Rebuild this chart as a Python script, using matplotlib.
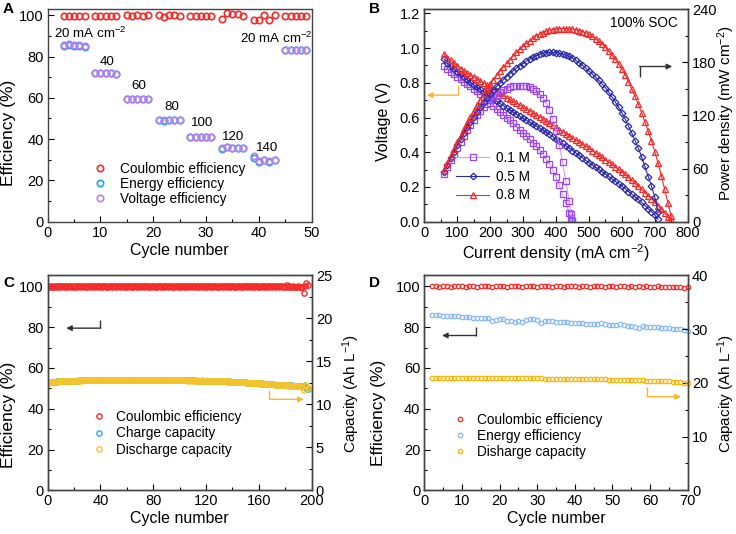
import matplotlib
matplotlib.use('Agg')
import matplotlib.pyplot as plt
from matplotlib.ticker import MultipleLocator, FormatStrFormatter

plt.rcParams['font.family'] = ['Liberation Sans', 'DejaVu Sans']
plt.rcParams['mathtext.fontset'] = 'custom'
plt.rcParams['mathtext.rm'] = 'Liberation Sans'
plt.rcParams['mathtext.it'] = 'Liberation Sans:italic'
plt.rcParams['mathtext.bf'] = 'Liberation Sans:bold'

# ---------------- Panel A: rate performance ----------------
a_cycles = [3, 4, 5, 6, 7, 9, 10, 11, 12, 13, 15, 16, 17, 18, 19, 21, 22, 23, 24, 25,
            27, 28, 29, 30, 31, 33, 34, 35, 36, 37, 39, 40, 41, 42, 43, 45, 46, 47, 48, 49]
a_ce = [99.7, 99.7, 99.7, 99.7, 99.7, 99.7, 99.7, 99.7, 99.7, 99.8,
        99.9, 99.6, 99.9, 99.6, 99.9, 99.9, 99.3, 99.9, 100.1, 99.5,
        99.8, 99.5, 99.6, 99.7, 99.8, 98.2, 101.1, 100.5, 100.5, 99.5,
        97.5, 97.7, 100.0, 97.8, 100.0, 99.5, 99.6, 99.6, 99.6, 99.6]
a_ee = [85.2, 85.6, 85.2, 85.2, 84.7, 71.8, 71.8, 71.8, 71.8, 71.3,
        59.3, 59.3, 59.3, 59.3, 59.3, 49.3, 49.0, 49.3, 49.3, 49.3,
        41.0, 41.0, 41.0, 40.8, 40.8, 35.2, 36.2, 35.6, 35.6, 35.6,
        30.8, 28.8, 29.8, 29.0, 29.8, 83.1, 83.1, 83.1, 83.1, 83.1]
a_ve = [85.5, 86.0, 85.5, 85.5, 85.0, 72.0, 72.0, 72.0, 72.0, 71.5,
        59.5, 59.5, 59.5, 59.5, 59.5, 49.5, 49.3, 49.5, 49.5, 49.5,
        41.2, 41.2, 41.2, 41.0, 41.0, 35.6, 36.0, 35.8, 35.8, 35.8,
        31.8, 29.5, 30.0, 29.5, 30.0, 83.3, 83.3, 83.3, 83.3, 83.3]
a_rate_labels = ['20 mA cm$^{-2}$', '40', '60', '80', '100', '120', '140', '20 mA cm$^{-2}$']
a_label_x = [8.1, 11.3, 17.2, 23.5, 29.3, 35.2, 41.5, 43.2]
a_label_y = [91.3, 77.5, 65.7, 55.4, 47.7, 41.2, 35.5, 88.8]

# ---------------- Panel B: polarization curves ----------------
b_labels = ['0.1 M', '0.5 M', '0.8 M']
b_cur_01 = [60, 70, 80, 90, 100, 110, 120, 130, 140, 150, 160, 170, 180, 190, 200,
            210, 220, 230, 240, 250, 260, 270, 280, 290, 300, 310, 320, 330, 340, 350,
            360, 370, 380, 390, 400, 410, 420, 430, 440, 445, 448]
b_volt_01 = [0.895, 0.880, 0.865, 0.850, 0.835, 0.821, 0.807, 0.793, 0.779, 0.765,
             0.750, 0.735, 0.720, 0.702, 0.685, 0.668, 0.651, 0.634, 0.617, 0.600,
             0.583, 0.566, 0.548, 0.530, 0.512, 0.494, 0.475, 0.455, 0.434, 0.411,
             0.388, 0.362, 0.333, 0.298, 0.256, 0.210, 0.160, 0.106, 0.052, 0.020, 0.002]
b_cur_05 = list(range(60, 711, 10))
b_volt_05 = [0.935, 0.915, 0.897, 0.880, 0.865, 0.849, 0.834, 0.819, 0.804, 0.790,
             0.776, 0.762, 0.748, 0.734, 0.720, 0.707, 0.694, 0.681, 0.668, 0.655,
             0.643, 0.631, 0.619, 0.607, 0.595, 0.584, 0.573, 0.562, 0.551, 0.540,
             0.528, 0.516, 0.503, 0.490, 0.477, 0.464, 0.451, 0.437, 0.424, 0.410,
             0.396, 0.382, 0.368, 0.354, 0.340, 0.327, 0.314, 0.301, 0.288, 0.275,
             0.261, 0.247, 0.233, 0.219, 0.205, 0.190, 0.174, 0.159, 0.143, 0.128,
             0.111, 0.093, 0.075, 0.058, 0.040, 0.015]
b_cur_08 = list(range(60, 751, 10))
b_volt_08 = [0.965, 0.945, 0.930, 0.912, 0.895, 0.882, 0.869, 0.857, 0.846, 0.835,
             0.823, 0.811, 0.799, 0.787, 0.775, 0.763, 0.751, 0.739, 0.727, 0.715,
             0.704, 0.693, 0.682, 0.671, 0.660, 0.649, 0.638, 0.627, 0.616, 0.605,
             0.593, 0.581, 0.569, 0.556, 0.543, 0.531, 0.519, 0.507, 0.495, 0.483,
             0.471, 0.459, 0.447, 0.435, 0.423, 0.410, 0.397, 0.384, 0.371, 0.358,
             0.344, 0.330, 0.316, 0.302, 0.288, 0.272, 0.255, 0.238, 0.221, 0.204,
             0.186, 0.168, 0.150, 0.132, 0.113, 0.093, 0.072, 0.050, 0.028, 0.008]

# ---------------- Panel C: long-term cycling (200 cycles) ----------------
c_cycles = list(range(1, 198))
c_ce = [99.9, 100.0, 99.8, 100.0, 99.9, 100.1, 99.9, 100.0, 99.8, 100.4, 100.0, 99.9, 100.1, 100.0, 99.9, 100.0, 100.1, 99.9, 100.0, 99.9,
        100.0, 99.9, 100.1, 100.0, 99.8, 100.0, 100.1, 99.9, 100.0, 99.9, 100.1, 100.0, 99.9, 100.0, 100.2, 99.9, 100.0, 100.1, 99.9, 100.0,
        99.9, 100.0, 100.1, 99.9, 100.0, 99.8, 100.0, 100.1, 99.9, 100.0, 100.0, 99.9, 100.1, 100.0, 99.9, 100.0, 100.2, 99.9, 100.0, 99.9,
        100.1, 100.0, 99.9, 100.0, 99.8, 100.0, 100.1, 99.9, 100.0, 99.9, 100.1, 100.0, 99.9, 100.0, 100.1, 99.9, 100.0, 99.9, 100.1, 100.0,
        99.9, 100.0, 99.8, 100.0, 100.1, 99.9, 100.0, 99.9, 100.1, 100.0, 99.9, 100.0, 100.2, 99.9, 100.0, 99.9, 100.1, 100.0, 99.9, 100.0,
        99.9, 100.0, 100.1, 99.9, 100.0, 99.8, 100.0, 100.1, 99.9, 100.0, 100.0, 99.9, 100.1, 100.0, 99.9, 100.0, 100.1, 99.9, 100.0, 99.9,
        100.1, 100.0, 99.9, 100.0, 99.8, 100.0, 100.1, 99.9, 100.0, 99.9, 100.1, 100.0, 99.9, 100.0, 100.1, 99.9, 100.0, 99.9, 100.1, 100.0,
        99.9, 100.0, 99.8, 100.0, 100.1, 99.9, 100.0, 99.9, 100.1, 100.0, 99.9, 100.0, 100.2, 99.9, 100.0, 99.9, 100.1, 100.0, 99.9, 100.0,
        99.9, 100.0, 100.1, 99.9, 100.0, 99.8, 100.0, 100.1, 99.9, 100.0, 100.0, 99.9, 100.1, 100.0, 99.9, 100.0, 100.1, 99.9, 100.0, 99.9,
        100.6, 99.9, 100.0, 99.8, 99.9, 100.0, 99.7, 99.9, 99.8, 100.0, 99.8, 99.7, 99.6, 96.5, 100.3, 101.8, 100.8]
c_charge = [12.55, 12.57, 12.59, 12.61, 12.63, 12.64, 12.66, 12.67, 12.68, 12.69, 12.70, 12.71, 12.72, 12.73, 12.74, 12.74, 12.75, 12.75, 12.76, 12.76,
            12.77, 12.77, 12.77, 12.78, 12.78, 12.78, 12.78, 12.79, 12.79, 12.79, 12.79, 12.79, 12.80, 12.80, 12.80, 12.80, 12.80, 12.80, 12.80, 12.80,
            12.81, 12.80, 12.81, 12.81, 12.82, 12.81, 12.81, 12.82, 12.81, 12.82, 12.82, 12.81, 12.82, 12.82, 12.82, 12.83, 12.82, 12.82, 12.83, 12.82,
            12.83, 12.82, 12.83, 12.83, 12.82, 12.83, 12.83, 12.83, 12.84, 12.83, 12.83, 12.84, 12.83, 12.84, 12.83, 12.84, 12.84, 12.83, 12.84, 12.84,
            12.84, 12.83, 12.84, 12.84, 12.83, 12.84, 12.83, 12.83, 12.84, 12.83, 12.83, 12.82, 12.83, 12.83, 12.82, 12.83, 12.82, 12.82, 12.82, 12.81,
            12.81, 12.81, 12.80, 12.80, 12.80, 12.79, 12.79, 12.79, 12.78, 12.78, 12.78, 12.77, 12.77, 12.77, 12.76, 12.76, 12.76, 12.75, 12.75, 12.75,
            12.74, 12.74, 12.73, 12.73, 12.72, 12.72, 12.71, 12.71, 12.70, 12.70, 12.69, 12.69, 12.68, 12.67, 12.67, 12.66, 12.66, 12.65, 12.64, 12.64,
            12.63, 12.62, 12.61, 12.60, 12.59, 12.58, 12.57, 12.56, 12.55, 12.54, 12.53, 12.52, 12.51, 12.50, 12.49, 12.48, 12.47, 12.46, 12.45, 12.44,
            12.43, 12.42, 12.41, 12.39, 12.38, 12.37, 12.36, 12.35, 12.33, 12.32, 12.31, 12.30, 12.29, 12.28, 12.27, 12.26, 12.25, 12.24, 12.23, 12.22,
            12.21, 12.20, 12.20, 12.19, 12.18, 12.17, 12.16, 12.16, 12.15, 12.14, 12.13, 12.12, 12.10, 12.08, 12.25, 11.88, 11.75]

# ---------------- Panel D: cycling (70 cycles) ----------------
d_cycles = list(range(2, 71))
d_ce = [100.0, 100.0, 99.9, 100.0, 100.0, 99.9, 100.0, 100.0, 100.0, 99.9,
        100.0, 100.0, 99.9, 100.0, 100.0, 100.0, 99.9, 100.0, 100.0, 100.0,
        99.9, 100.0, 100.0, 100.0, 99.9, 100.0, 100.0, 100.0, 99.9, 100.0,
        100.0, 100.0, 99.9, 100.0, 100.0, 99.9, 100.0, 100.0, 100.0, 99.9,
        100.0, 100.0, 99.9, 100.0, 100.0, 100.0, 99.9, 100.0, 100.0, 99.9,
        100.0, 100.0, 99.9, 100.0, 99.9, 100.0, 99.9, 100.0, 99.9, 99.9,
        100.0, 99.9, 99.9, 99.9, 99.8, 99.8, 99.7, 99.4, 99.9]
d_ee = [86.1, 85.9, 85.8, 85.7, 85.6, 85.6, 85.5, 85.3, 85.1, 84.9,
        84.8, 84.7, 84.6, 84.5, 84.5, 84.3, 82.9, 83.3, 84.2, 83.8,
        83.2, 82.9, 82.7, 82.8, 82.6, 83.5, 84.2, 83.9, 83.3, 82.2,
        82.8, 83.0, 82.9, 82.6, 82.5, 82.4, 82.3, 82.2, 82.1, 82.0,
        81.8, 81.6, 81.5, 81.3, 81.3, 81.8, 81.4, 81.1, 81.1, 81.0,
        81.3, 81.2, 80.8, 80.6, 80.3, 79.8, 80.4, 80.2, 80.1, 79.9,
        79.9, 79.7, 79.6, 79.4, 79.3, 79.2, 78.9, 78.5, 78.1]
d_discharge = [20.90, 20.90, 20.89, 20.89, 20.89, 20.88, 20.88, 20.88, 20.88, 20.87,
               20.87, 20.87, 20.87, 20.86, 20.86, 20.86, 20.86, 20.86, 20.85, 20.85,
               20.85, 20.85, 20.84, 20.84, 20.84, 20.83, 20.83, 20.82, 20.82, 20.81,
               20.80, 20.80, 20.79, 20.78, 20.77, 20.76, 20.75, 20.74, 20.73, 20.72,
               20.71, 20.69, 20.68, 20.67, 20.65, 20.64, 20.62, 20.61, 20.59, 20.57,
               20.56, 20.54, 20.52, 20.50, 20.48, 20.46, 20.44, 20.42, 20.40, 20.37,
               20.34, 20.31, 20.28, 20.25, 20.21, 20.17, 20.12, 20.06, 20.00]

RED = '#F42A2A'
A_BLUE = '#1FA3EE'
A_PURPLE = '#B47FEE'
B_PURPLE = '#9B45F0'
B_PURPLE_LINE = '#C9A2F5'
B_BLUE = '#2A2AA8'
B_RED = '#F42A2A'
C_CYAN = '#29A8EE'
C_YELLOW = '#F7C52A'
D_BLUE = '#8AB8F2'
D_ORANGE = '#F8B400'
ARROW_YELLOW = '#F5B82E'
ARROW_DARK = '#333333'
SPINE = '#444444'

TICK_FS = 10.5
LABEL_FS = 11.5
RIGHT_FS = 11
EFF_FS = 12.5
LEG_FS = 9.8


def style_axis(ax, xmajor, ymajor, right=False):
    ax.tick_params(direction='in', which='both', labelsize=TICK_FS, colors='black',
                   top=False, right=right, left=not right, pad=3)
    ax.tick_params(which='major', length=4, width=0.8)
    ax.tick_params(which='minor', length=2, width=0.8)
    ax.xaxis.set_major_locator(MultipleLocator(xmajor))
    ax.xaxis.set_minor_locator(MultipleLocator(xmajor / 2))
    ax.yaxis.set_major_locator(MultipleLocator(ymajor))
    ax.yaxis.set_minor_locator(MultipleLocator(ymajor / 2))
    for sp in ax.spines.values():
        sp.set_color(SPINE)
        sp.set_linewidth(1.0)
    for t in ax.get_xticklines() + ax.get_yticklines():
        t.set_color(SPINE)


def elbow_arrow(ax, x_elbow, y_end, y_start, x_tip, color):
    # vertical segment then horizontal arrow
    ax.plot([x_elbow, x_elbow], [y_start, y_end], color=color, lw=1.0, solid_capstyle='butt')
    ax.annotate('', xy=(x_tip, y_end), xytext=(x_elbow, y_end),
                arrowprops=dict(arrowstyle='-|>', color=color, lw=1.0,
                                mutation_scale=8, shrinkA=0, shrinkB=0))


fig = plt.figure(figsize=(7.36, 5.34), dpi=100)

# ---------- A ----------
ax_a = fig.add_axes([0.0648, 0.5848, 0.3587, 0.3983])
ax_a.plot(a_cycles, a_ce, 'o', mfc='none', mec=RED, ms=4.6, mew=1.2, label='Coulombic efficiency')
ax_a.plot(a_cycles, a_ee, 'o', mfc='none', mec=A_BLUE, ms=4.6, mew=1.2, label='Energy efficiency')
ax_a.plot(a_cycles, a_ve, 'o', mfc='none', mec=A_PURPLE, ms=4.6, mew=1.2, label='Voltage efficiency')
ax_a.set_xlim(0, 50)
ax_a.set_ylim(0, 103)
style_axis(ax_a, 10, 20)
ax_a.set_xlabel('Cycle number', fontsize=LABEL_FS, labelpad=2)
ax_a.set_ylabel('Efficiency (%)', fontsize=EFF_FS)
ax_a.yaxis.set_label_coords(-0.12, 0.42)
for txt, x, y in zip(a_rate_labels, a_label_x, a_label_y):
    ax_a.text(x, y, txt, fontsize=9.6, ha='center', va='center')
ax_a.legend(loc='center left', bbox_to_anchor=(0.152, 0.177), frameon=False, fontsize=LEG_FS,
            handlelength=1.0, handletextpad=0.95, labelspacing=0.08, borderaxespad=0)

# ---------- B ----------
ax_b = fig.add_axes([0.5765, 0.5848, 0.3579, 0.3983])
ax_b2 = ax_b.twinx()
b_sets = [(b_cur_01, b_volt_01, B_PURPLE, B_PURPLE_LINE, 's'),
          (b_cur_05, b_volt_05, B_BLUE, B_BLUE, 'D'),
          (b_cur_08, b_volt_08, B_RED, B_RED, '^')]
for (cur, volt, mcol, lcol, mk), lab in zip(b_sets, b_labels):
    ms = 3.4 if mk == 'D' else 3.8
    ax_b.plot(cur, volt, '-', color=lcol, lw=0.8, marker=mk, mfc='none', mec=mcol,
              ms=ms, mew=0.9, label=lab)
    power = [i * v for i, v in zip(cur, volt)]
    ax_b2.plot(cur, power, '-', color=lcol, lw=0.8, marker=mk, mfc='none', mec=mcol,
               ms=ms, mew=0.9)
ax_b.set_xlim(0, 800)
ax_b.set_ylim(0, 1.225)
ax_b2.set_ylim(0, 240)
style_axis(ax_b, 100, 0.2)
ax_b.yaxis.set_major_formatter(FormatStrFormatter('%.1f'))
style_axis(ax_b2, 100, 60, right=True)
ax_b2.yaxis.set_minor_locator(MultipleLocator(30))
ax_b.set_xlabel('Current density (mA cm$^{-2}$)', fontsize=LABEL_FS, labelpad=2)
ax_b.set_ylabel('Voltage (V)', fontsize=LABEL_FS)
ax_b.yaxis.set_label_coords(-0.126, 0.47)
ax_b2.set_ylabel('Power density (mW cm$^{-2}$)', fontsize=RIGHT_FS)
ax_b2.yaxis.set_label_coords(1.105, 0.51)
ax_b.text(0.963, 0.934, '100% SOC', transform=ax_b.transAxes, fontsize=9.8, ha='right', va='center')
elbow_arrow(ax_b, 101, 0.729, 0.786, 8, ARROW_YELLOW)
elbow_arrow(ax_b, 654, 0.894, 0.836, 753, ARROW_DARK)
ax_b2.legend(*ax_b.get_legend_handles_labels(), loc='center left', bbox_to_anchor=(0.10, 0.212),
             frameon=False, fontsize=LEG_FS, handlelength=2.43, handletextpad=0.5,
             labelspacing=0.35, borderaxespad=0)

# ---------- C ----------
ax_c = fig.add_axes([0.0648, 0.0818, 0.3587, 0.4026])
ax_c2 = ax_c.twinx()
c_discharge = [q * ce / 100 for q, ce in zip(c_charge, c_ce)]
l1, = ax_c.plot(c_cycles, c_ce, 'o', mfc='none', mec=RED, ms=3.8, mew=1.0, label='Coulombic efficiency')
l2, = ax_c2.plot(c_cycles, c_charge, 'o', mfc='none', mec=C_CYAN, ms=3.8, mew=1.0, label='Charge capacity')
l3, = ax_c2.plot(c_cycles, c_discharge, 'o', mfc='none', mec=C_YELLOW, ms=3.8, mew=1.0, label='Discharge capacity')
ax_c.set_xlim(0, 200)
ax_c.set_ylim(0, 105.4)
ax_c2.set_ylim(0, 25)
style_axis(ax_c, 40, 20)
style_axis(ax_c2, 40, 5, right=True)
ax_c.set_xlabel('Cycle number', fontsize=LABEL_FS, labelpad=2)
ax_c.set_ylabel('Efficiency (%)', fontsize=EFF_FS)
ax_c.yaxis.set_label_coords(-0.12, 0.35)
ax_c2.set_ylabel('Capacity (Ah L$^{-1}$)', fontsize=RIGHT_FS)
ax_c2.yaxis.set_label_coords(1.11, 0.45)
elbow_arrow(ax_c, 40, 79.5, 83.6, 14, ARROW_DARK)
elbow_arrow(ax_c, 168, 44.6, 49.2, 194, ARROW_YELLOW)
ax_c2.legend(handles=[l1, l2, l3], loc='center left', bbox_to_anchor=(0.148, 0.265), frameon=False,
             fontsize=LEG_FS, handlelength=1.0, handletextpad=0.75, labelspacing=0.2, borderaxespad=0)

# ---------- D ----------
ax_d = fig.add_axes([0.5765, 0.0818, 0.3579, 0.4026])
ax_d2 = ax_d.twinx()
m1, = ax_d.plot(d_cycles, d_ce, 'o', mfc='none', mec=RED, ms=3.2, mew=0.9, clip_on=False, label='Coulombic efficiency')
m2, = ax_d.plot(d_cycles, d_ee, 'o', mfc='none', mec=D_BLUE, ms=3.2, mew=0.9, clip_on=False, label='Energy efficiency')
m3, = ax_d2.plot(d_cycles, d_discharge, 'o', mfc='none', mec=D_ORANGE, ms=3.2, mew=0.9, clip_on=False, label='Disharge capacity')
ax_d.set_xlim(0, 70)
ax_d.set_ylim(0, 105.4)
ax_d2.set_ylim(0, 40)
style_axis(ax_d, 10, 20)
style_axis(ax_d2, 10, 10, right=True)
ax_d.set_xlabel('Cycle number', fontsize=LABEL_FS, labelpad=2)
ax_d.set_ylabel('Efficiency (%)', fontsize=EFF_FS)
ax_d.yaxis.set_label_coords(-0.147, 0.36)
ax_d2.set_ylabel('Capacity (Ah L$^{-1}$)', fontsize=RIGHT_FS)
ax_d2.yaxis.set_label_coords(1.105, 0.45)
elbow_arrow(ax_d, 13.7, 75.9, 80.3, 4.7, ARROW_DARK)
elbow_arrow(ax_d, 59.2, 45.9, 50.8, 68.2, ARROW_YELLOW)
ax_d2.legend(handles=[m1, m2, m3], loc='center left', bbox_to_anchor=(0.09, 0.252), frameon=False,
             fontsize=LEG_FS, handlelength=1.0, handletextpad=0.73, labelspacing=0.15, borderaxespad=0)

# panel letters
for letter, x, y in [('A', 0.004, 0.996), ('B', 0.502, 0.996), ('C', 0.004, 0.483), ('D', 0.501, 0.483)]:
    fig.text(x, y, letter, fontsize=11, fontweight='bold', ha='left', va='top')

fig.savefig('out.png', dpi=100)
